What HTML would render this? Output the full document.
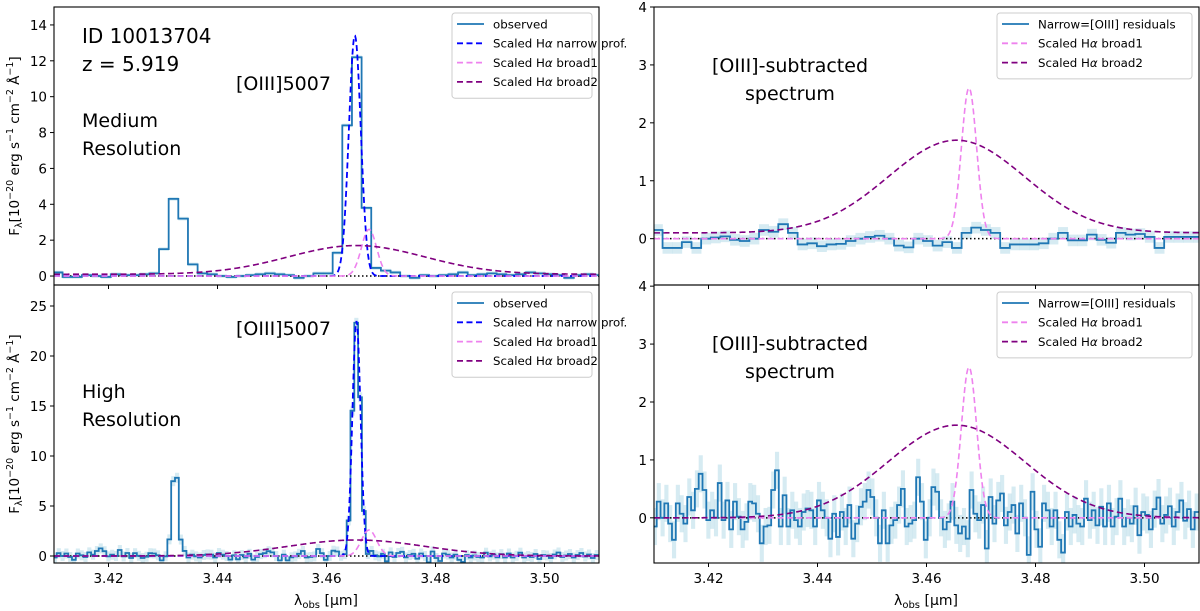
<!DOCTYPE html>
<html><head><meta charset="utf-8">
<style>
html,body{margin:0;padding:0;background:#fff;}
svg{display:block;font-family:"DejaVu Sans","Liberation Sans",sans-serif;}
</style></head>
<body>
<svg id="fig" width="1200" height="611" viewBox="0 0 1200 611" xmlns="http://www.w3.org/2000/svg"></svg>
<script>
// ---------- data ----------
const xTicks = [3.42, 3.44, 3.46, 3.48, 3.50];
const xTickLabels = ["3.42", "3.44", "3.46", "3.48", "3.50"];
const tlTicks = [0, 2, 4, 6, 8, 10, 12, 14];
const blTicks = [0, 5, 10, 15, 20, 25];
const rTicks = [0, 1, 2, 3, 4];

const mrStart = 3.4098, mrStep = 0.00177;
const mrObs = [0.2,-0.05,-0.05,0.05,0,-0.05,0.1,0.05,0.05,0.1,0.15,1.5,4.3,3.2,0.65,0.15,0.1,0.0,-0.05,0,0.05,0.1,0.15,0.1,0.05,-0.1,0.0,0.15,0.15,1.3,8.4,12.2,3.8,0.45,0.3,0.2,0.0,-0.1,0.05,0,0.05,0.1,0.2,0.05,0.1,0.15,0.1,0.05,0.1,0.2,0.15,0.1,0.05,-0.1,0.05,0.1,0.05];
const mrRes = [0.15,-0.16,-0.16,-0.06,-0.16,0.0,0.02,0.04,-0.02,-0.04,0.0,0.15,0.12,0.25,0.1,-0.1,-0.08,-0.13,-0.1,-0.09,-0.04,0.0,0.03,0.05,0.0,-0.12,-0.15,0.0,-0.04,-0.12,-0.06,-0.16,0.1,0.19,0.15,0.1,-0.16,-0.1,-0.1,-0.1,-0.08,0.0,0.1,-0.03,-0.03,0.07,-0.02,-0.07,0.1,0.07,0.08,0.03,-0.16,0.03,0.03,0.03,0.03];
const mrErr = 0.1;

const hrStart = 3.4098, hrStep = 0.0007;
const hrRes = [-0.15,0.28,0,0.25,-0.1,-0.38,0.25,0.07,-0.1,0.36,0.13,0.5,0.76,0.48,-0.04,0.13,0,0.6,-0.04,0.3,-0.2,0.28,0.02,-0.2,-0.07,0.28,0.25,0.07,-0.44,-0.15,-0.13,0.48,0.82,-0.15,0.39,-0.15,0.13,-0.04,-0.15,0.1,0.16,0.13,-0.15,0.3,0.13,0,-0.36,0.07,-0.33,0.1,-0.15,0.22,-0.36,-0.1,0.19,0.28,0.48,0.36,0,-0.44,0.13,-0.44,-0.13,-0.04,0.22,0.5,-0.15,-0.1,-0.04,0.7,0.28,-0.38,0,0.53,0.45,0,-0.2,-0.07,0.28,-0.13,-0.27,-0.15,-0.36,0.48,0.07,-0.04,0.22,-0.53,0.36,-0.1,0.3,0.42,-0.13,0.1,0.22,-0.27,0.25,0,-0.64,0.45,-0.2,-0.5,0.25,0.13,-0.15,0.13,-0.38,-0.6,0.1,-0.15,0.05,-0.1,-0.15,0.33,-0.04,0.13,-0.13,0.19,-0.15,0.25,-0.15,0.02,0.33,-0.15,0,-0.1,0.2,-0.3,0.1,0.05,-0.2,0.15,0.35,-0.1,0.05,0.2,-0.15,0.1,0.3,-0.05,0.15,-0.2,0.1];
const hrErr = 0.32;

// model gaussian parameters: [amplitude, centre, sigma, baseline]
const mrNarrow = [13.4, 3.4652, 0.0011, 0];
const hrNarrow = [23.5, 3.4655, 0.00075, 0];
const hrLine2 = [8.3, 3.4322, 0.0006, 0];
const broad1 = [2.6, 3.4678, 0.0014, 0];
const broad2Top = [1.6, 3.4655, 0.0125, 0.1];
const broad2Bot = [1.6, 3.4655, 0.0125, 0];

// ---------- helpers ----------
const NS = "http://www.w3.org/2000/svg";
const svg = document.getElementById("fig");
function mk(tag, attrs, parent) {
  const e = document.createElementNS(NS, tag);
  for (const k in attrs) e.setAttribute(k, attrs[k]);
  (parent || svg).appendChild(e);
  return e;
}
function gauss(p, x) { return p[3] + p[0] * Math.exp(-((x - p[1]) ** 2) / (2 * p[2] * p[2])); }

const XMIN = 3.41, XMAX = 3.51;
function panel(name, x0, x1, y0, y1, ymin, ymax) {
  const sx = v => x0 + (v - XMIN) / (XMAX - XMIN) * (x1 - x0);
  const sy = v => y1 - (v - ymin) / (ymax - ymin) * (y1 - y0);
  const g = mk("g", {});
  
  
  const cid = "clip-" + name;
  const cp = mk("clipPath", { id: cid }, g);
  mk("rect", { x: x0, y: y0, width: x1 - x0, height: y1 - y0 }, cp);
  const plot = mk("g", { "clip-path": "url(#" + cid + ")" }, g);
  return { g, plot, sx, sy, x0, x1, y0, y1 };
}
function frame(P) {
  const r = mk("rect", { x: P.x0, y: P.y0, width: P.x1 - P.x0, height: P.y1 - P.y0, fill: "none", stroke: "#000", "stroke-width": 1.1 }, P.g);
  
  
}
function yAxis(P, ticks) {
  ticks.forEach(t => {
    const y = P.sy(t);
    mk("line", { x1: P.x0 - 4, x2: P.x0, y1: y, y2: y, stroke: "#000", "stroke-width": 1 }, P.g);
    const tx = mk("text", { x: P.x0 - 7, y: y + 5, "font-size": 13.5, "text-anchor": "end" }, P.g);
    tx.textContent = t;
    
    
  });
}
function xAxis(P, labels) {
  xTicks.forEach((t, i) => {
    const x = P.sx(t);
    mk("line", { x1: x, x2: x, y1: P.y1, y2: P.y1 + 4, stroke: "#000", "stroke-width": 1 }, P.g);
    if (labels) {
      const tx = mk("text", { x: x, y: P.y1 + 20, "font-size": 13.5, "text-anchor": "middle" }, P.g);
      tx.textContent = xTickLabels[i];
      
      
    }
  });
}
function stepPath(P, start, step, vals, off) {
  let d = "";
  vals.forEach((v, i) => {
    const xa = P.sx(start + i * step), xb = P.sx(start + (i + 1) * step), y = P.sy(v + (off ? off(i) : 0));
    d += (i === 0 ? "M" : "L") + xa.toFixed(2) + "," + y.toFixed(2) + "L" + xb.toFixed(2) + "," + y.toFixed(2);
  });
  return d;
}
function errBand(P, start, step, vals, err, off) {
  vals.forEach((v, i) => {
    const vv = v + (off ? off(i) : 0);
    const xa = P.sx(start + i * step), xb = P.sx(start + (i + 1) * step);
    const ya = P.sy(vv + err), yb = P.sy(vv - err);
    const r = mk("rect", { x: xa, y: ya, width: xb - xa + 0.3, height: yb - ya, fill: "#add8e6", opacity: 0.5 }, P.plot);
    
    
  });
}
function modelLine(P, params, color, name, width) {
  let d = "";
  for (let k = 0; k <= 800; k++) {
    const x = XMIN + (XMAX - XMIN) * k / 800;
    d += (k ? "L" : "M") + P.sx(x).toFixed(2) + "," + P.sy(gauss(params, x)).toFixed(2);
  }
  const p = mk("path", { d, fill: "none", stroke: color, "stroke-width": width || 1.6, "stroke-dasharray": "6,3.5" }, P.plot);
  
  
}
function zeroLine(P) {
  const l = mk("line", { x1: P.x0, x2: P.x1, y1: P.sy(0), y2: P.sy(0), stroke: "#000", "stroke-width": 1.5, "stroke-dasharray": "1.5,2.5" }, P.plot);
  
  
}
function obsLine(P, d) {
  const p = mk("path", { d, fill: "none", stroke: "#1f77b4", "stroke-width": 1.8 }, P.plot);
  
  
}
function text(parent, x, y, s, size, anchor, name) {
  const t = mk("text", { x, y, "font-size": size, "text-anchor": anchor || "start" }, parent);
  t.textContent = s;
  
  
  return t;
}
function legend(P, x, y, w, items) {
  const g = mk("g", {}, P.g);
  
  
  mk("rect", { x, y, width: w, height: 8 + items.length * 19.3, rx: 3, fill: "#fff", "fill-opacity": 0.85, stroke: "#ccc", "stroke-width": 1 }, g);
  items.forEach((it, i) => {
    const yy = y + 11 + i * 19.3;
    const ln = mk("line", { x1: x + 5, x2: x + 32, y1: yy, y2: yy, stroke: it[1], "stroke-width": 1.8 }, g);
    if (it[2]) ln.setAttribute("stroke-dasharray", "6,3.5");
    const t = mk("text", { x: x + 41, y: yy + 4.3, "font-size": 11.8 }, g);
    t.innerHTML = it[0];
    
    
  });
}
const HA = 'Scaled H<tspan font-style="italic">α</tspan>';

// ---------- top-left: medium resolution ----------
const TL = panel("medium-resolution-panel", 54, 599, 7, 285, -0.5, 15);
errBand(TL, mrStart, mrStep, mrObs, mrErr);
zeroLine(TL);
obsLine(TL, stepPath(TL, mrStart, mrStep, mrObs));
modelLine(TL, mrNarrow, "#0000ff", "narrow-profile", 1.8);
modelLine(TL, broad1, "#ee82ee", "broad1-profile");
modelLine(TL, broad2Top, "#800080", "broad2-profile");
frame(TL); yAxis(TL, tlTicks); xAxis(TL, false);
legend(TL, 452, 13, 140, [["observed", "#1f77b4", false], [HA + " narrow prof.", "#0000ff", true], [HA + " broad1", "#ee82ee", true], [HA + " broad2", "#800080", true]]);
text(TL.g, 82, 43, "ID 10013704", 20, "start", "object-id");
text(TL.g, 82, 71, "z = 5.919", 20, "start", "redshift");
text(TL.g, 236, 90, "[OIII]5007", 19, "start", "oiii-label");
text(TL.g, 82, 127, "Medium", 19, "start", "resolution-label");
text(TL.g, 82, 155, "Resolution", 19, "start", "resolution-label");

// ---------- bottom-left: high resolution ----------
const BL = panel("high-resolution-panel", 54, 599, 285, 563, -0.7, 27.1);
const hrOff = i => { const x = hrStart + (i + 0.5) * hrStep; return gauss(hrNarrow, x) + gauss(hrLine2, x); };
errBand(BL, hrStart, hrStep, hrRes, 0.5, hrOff);
zeroLine(BL);
obsLine(BL, stepPath(BL, hrStart, hrStep, hrRes, hrOff));
modelLine(BL, hrNarrow, "#0000ff", "narrow-profile", 1.8);
modelLine(BL, broad1, "#ee82ee", "broad1-profile");
modelLine(BL, broad2Bot, "#800080", "broad2-profile");
frame(BL); yAxis(BL, blTicks); xAxis(BL, true);
legend(BL, 452, 292, 140, [["observed", "#1f77b4", false], [HA + " narrow prof.", "#0000ff", true], [HA + " broad1", "#ee82ee", true], [HA + " broad2", "#800080", true]]);
text(BL.g, 236, 335, "[OIII]5007", 19, "start", "oiii-label");
text(BL.g, 82, 398, "High", 19, "start", "resolution-label");
text(BL.g, 82, 426, "Resolution", 19, "start", "resolution-label");
const xl1 = text(BL.g, 326, 605, "", 14, "middle", "x-axis-title");
xl1.innerHTML = 'λ<tspan font-size="10" dy="3">obs</tspan><tspan dy="-3"> [μm]</tspan>';

// ---------- top-right: MR residuals ----------
const TR = panel("medium-resolution-residuals-panel", 654, 1199, 7, 285, -0.8, 4);
errBand(TR, mrStart, mrStep, mrRes, mrErr);
zeroLine(TR);
obsLine(TR, stepPath(TR, mrStart, mrStep, mrRes));
modelLine(TR, broad1, "#ee82ee", "broad1-profile");
modelLine(TR, broad2Top, "#800080", "broad2-profile");
frame(TR); yAxis(TR, rTicks); xAxis(TR, false);
legend(TR, 997, 13, 195, [["Narrow=[OIII] residuals", "#1f77b4", false], [HA + " broad1", "#ee82ee", true], [HA + " broad2", "#800080", true]]);
text(TR.g, 790, 72, "[OIII]-subtracted", 19, "middle", "panel-annotation");
text(TR.g, 790, 100, "spectrum", 19, "middle", "panel-annotation");

// ---------- bottom-right: HR residuals ----------
const BR = panel("high-resolution-residuals-panel", 654, 1199, 285, 563, -0.78, 4.02);
errBand(BR, hrStart, hrStep, hrRes, hrErr);
zeroLine(BR);
obsLine(BR, stepPath(BR, hrStart, hrStep, hrRes));
modelLine(BR, broad1, "#ee82ee", "broad1-profile");
modelLine(BR, broad2Bot, "#800080", "broad2-profile");
frame(BR); yAxis(BR, rTicks); xAxis(BR, true);
legend(BR, 997, 292, 195, [["Narrow=[OIII] residuals", "#1f77b4", false], [HA + " broad1", "#ee82ee", true], [HA + " broad2", "#800080", true]]);
text(BR.g, 790, 350, "[OIII]-subtracted", 19, "middle", "panel-annotation");
text(BR.g, 790, 378, "spectrum", 19, "middle", "panel-annotation");
const xl2 = text(BR.g, 926, 605, "", 14, "middle", "x-axis-title");
xl2.innerHTML = 'λ<tspan font-size="10" dy="3">obs</tspan><tspan dy="-3"> [μm]</tspan>';

// y-axis titles
[146, 424].forEach(cy => {
  const t = mk("text", { x: 0, y: 0, "font-size": 13.5, "text-anchor": "middle", transform: "translate(19," + cy + ") rotate(-90)" });
  t.innerHTML = 'F<tspan font-size="9.5" dy="3">λ</tspan><tspan dy="-3">[10</tspan><tspan font-size="9.5" dy="-6">−20</tspan><tspan dy="6"> erg s</tspan><tspan font-size="9.5" dy="-6">−1</tspan><tspan dy="6"> cm</tspan><tspan font-size="9.5" dy="-6">−2</tspan><tspan dy="6"> Å</tspan><tspan font-size="9.5" dy="-6">−1</tspan><tspan dy="6">]</tspan>';
  
  
});
</script>
</body></html>
